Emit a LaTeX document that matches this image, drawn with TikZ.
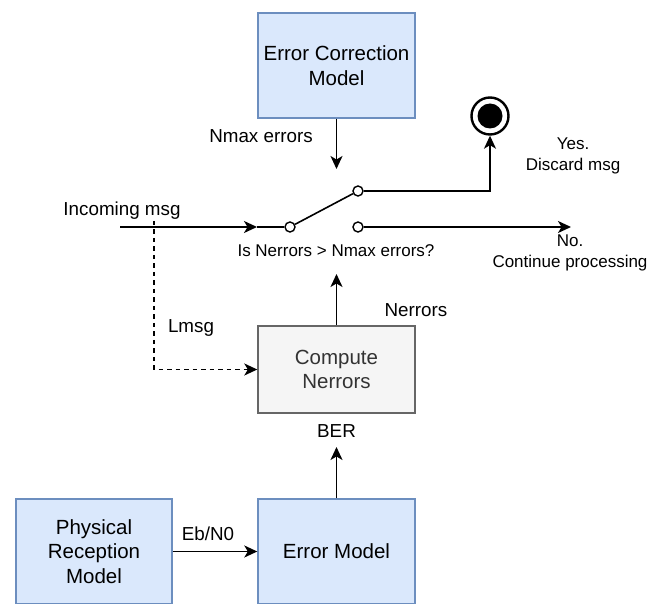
\documentclass[tikz,border=0pt]{standalone}
\usepackage{fontspec}
\setmainfont{Liberation Sans}
\usetikzlibrary{arrows.meta}

\definecolor{boxblue}{HTML}{DAE8FC}
\definecolor{edgeblue}{HTML}{6C8EBF}
\definecolor{boxgray}{HTML}{F5F5F5}
\definecolor{edgegray}{HTML}{666666}
\definecolor{textgray}{HTML}{333333}

\tikzset{
    bluebox/.style={draw=edgeblue, fill=boxblue, line width=1.4pt,
        minimum width=157pt, minimum height=105pt, align=center,
        font=\fontsize{20.5}{24.5}\selectfont},
    graybox/.style={draw=edgegray, fill=boxgray, text=textgray, line width=1.4pt,
        minimum width=157pt, minimum height=87pt, align=center,
        font=\fontsize{20.5}{24}\selectfont},
    contact/.style={circle, draw, fill=white, line width=1.4pt, minimum size=10pt, inner sep=0pt},
    arr/.style={-{Stealth[length=13pt,width=12pt,inset=3.5pt]}, line width=1.6pt},
    lbl/.style={font=\fontsize{18.8}{22}\selectfont},
    sml/.style={font=\fontsize{17}{21}\selectfont, align=center}
}

\begin{document}
\begin{tikzpicture}[x=1pt, y=-1pt]
    \useasboundingbox (0,0) rectangle (649,604);

    % Error correction model
    \node[bluebox] (ecm) at (336.5,65.5) {Error Correction\\Model};
    \coordinate (nmaxTip) at (336.5,169);
    \draw[arr] (ecm) -- (nmaxTip);
    \node[lbl] (nmaxLbl) at (261,136) {Nmax errors};

    % Switch contacts
    \node[contact] (cin) at (290,227) {};
    \node[contact] (cup) at (358,191) {};
    \node[contact] (cdown) at (358,227) {};
    \draw[line width=1.6pt] (cin) -- (cup);
    \node[sml] (testLbl) at (336,251) {Is Nerrors > Nmax errors?};

    % Incoming message
    \coordinate (inStart) at (120,227);
    \coordinate (inTip) at (257,227);
    \draw[arr] (inStart) -- (inTip);
    \draw[line width=1.6pt] (inTip) -- (cin);
    \node[lbl] (inLbl) at (122,211) {Incoming msg};

    % Discard end point
    \node[circle, draw, line width=2.4pt, minimum size=37pt, inner sep=0pt] (target) at (490,116) {};
    \fill (target.center) circle (12.5pt);
    \draw[arr] (cup) -| (target);
    \node[sml] (yesLbl) at (573,156) {Yes.\\Discard msg};

    % Continue processing
    \coordinate (noEnd) at (571,227);
    \draw[arr] (cdown) -- (noEnd);
    \node[sml] (noLbl) at (570,253) {No.\\Continue processing};

    % Compute Nerrors
    \node[graybox] (compute) at (336.5,369.5) {Compute\\Nerrors};
    \coordinate (compTip) at (336.5,274);
    \draw[arr] (compute) -- (compTip);
    \node[lbl] (nerrLbl) at (416,310) {Nerrors};

    % Message length (dashed)
    \coordinate (tap) at (154,221);
    \draw[arr, dash pattern=on 4.5pt off 4pt] (tap) |- (compute);
    \node[lbl] (lmsgLbl) at (191,328) {Lmsg};

    % Error model
    \node[bluebox] (errmodel) at (336.5,551.5) {Error Model};
    \coordinate (berTip) at (336.5,447);
    \draw[arr] (errmodel) -- (berTip);
    \node[lbl] (berLbl) at (336.5,431) {BER};

    % Physical reception model
    \node[bluebox, minimum width=156pt] (phys) at (94,551.5) {Physical\\Reception\\Model};
    \draw[arr] (phys) -- (errmodel);
    \node[lbl] (ebLbl) at (208,534) {Eb/N0};

\end{tikzpicture}
\end{document}
